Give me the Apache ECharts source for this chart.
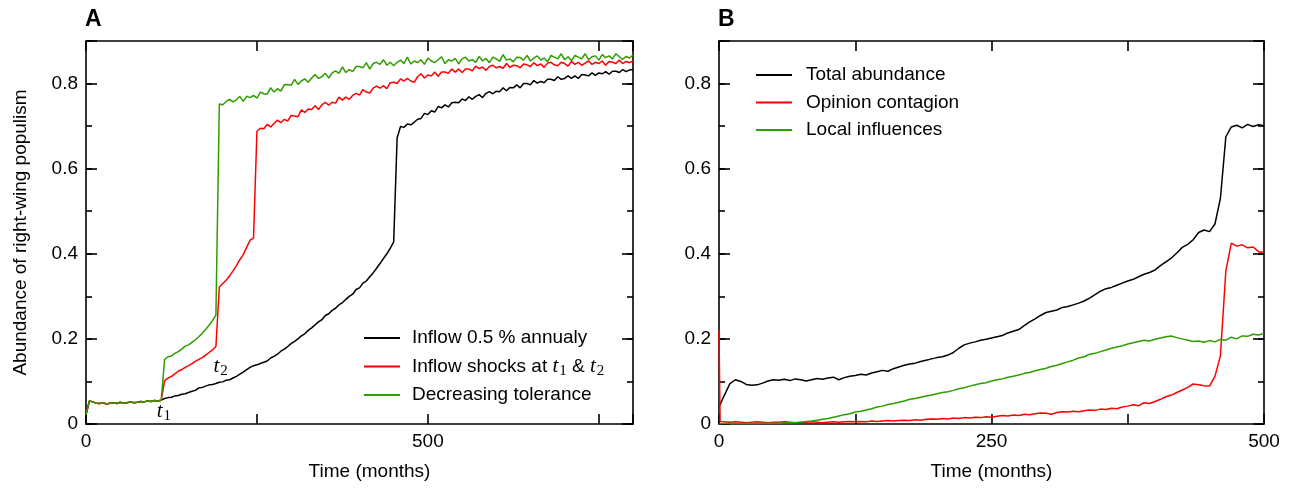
<!DOCTYPE html>
<html>
<head>
<meta charset="utf-8">
<script src="https://cdn.jsdelivr.net/npm/echarts@6/dist/echarts.min.js"></script>
<style>
html,body{margin:0;padding:0;background:#fff;}
#c{width:1291px;height:489px;}
</style>
</head>
<body>
<div id="c"></div>
<script>
// ---------------- DATA ----------------
// Panel A (time in months, step 5)
const preShockA = [0.022,0.054,0.052,0.049,0.048,0.050,0.047,0.049,0.050,0.048,
  0.051,0.049,0.050,0.052,0.050,0.051,0.053,0.052,0.054,0.053,
  0.055,0.054,0.056]; // t = 0..110
const blackA1 = [0.060,0.062,0.063,0.066,0.067,0.070,0.071,0.074,0.077,0.079,
  0.085,0.086,0.089,0.092,0.093,0.095,0.098,0.099,0.103,0.104,
  0.108,0.112,0.117,0.122,0.128,0.133,0.137,0.139,0.142,0.145,
  0.148,0.155,0.159,0.164,0.171,0.176,0.182,0.189,0.194,0.200,
  0.207,0.212,0.220,0.226,0.233,0.240,0.245,0.255,0.259,0.267,
  0.272,0.280,0.285,0.293,0.300,0.305,0.316,0.320,0.331,0.336,
  0.346,0.355,0.366,0.377,0.389,0.400,0.413,0.428]; // t = 115..450
const blackA2 = [0.672,0.699,0.697,0.705,0.703,0.709,0.716,0.718,0.730,0.727,
  0.736,0.733,0.746,0.743,0.750,0.745,0.755,0.756,0.755,0.764,
  0.760,0.769,0.763,0.770,0.774,0.767,0.777,0.781,0.776,0.782,
  0.781,0.790,0.783,0.791,0.790,0.797,0.790,0.800,0.800,0.797,
  0.807,0.801,0.805,0.802,0.810,0.810,0.807,0.816,0.810,0.812,
  0.818,0.812,0.818,0.812,0.821,0.820,0.818,0.825,0.819,0.825,
  0.823,0.828,0.822,0.829,0.829,0.826,0.833,0.828,0.832,0.833]; // t = 455..800
const redA1 = [0.102,0.108,0.112,0.118,0.124,0.128,0.133,0.137,0.142,0.147,
  0.152,0.156,0.162,0.168,0.174,0.182]; // t = 115..190
const redA2 = [0.322,0.330,0.338,0.348,0.360,0.372,0.386,0.398,0.415,0.432,0.437]; // t = 195..245
const redA3 = [0.688,0.695,0.694,0.704,0.698,0.706,0.714,0.708,0.716,0.712,
  0.725,0.724,0.722,0.738,0.732,0.740,0.739,0.748,0.739,0.750,
  0.756,0.749,0.756,0.754,0.768,0.761,0.768,0.763,0.772,0.777,
  0.773,0.786,0.780,0.778,0.789,0.794,0.789,0.795,0.788,0.802,
  0.803,0.800,0.811,0.806,0.812,0.806,0.803,0.816,0.823,0.813,
  0.820,0.818,0.827,0.817,0.827,0.827,0.824,0.834,0.827,0.834,
  0.826,0.834,0.834,0.830,0.841,0.835,0.839,0.831,0.840,0.843,
  0.837,0.840,0.836,0.847,0.838,0.843,0.842,0.837,0.846,0.844,
  0.840,0.849,0.842,0.846,0.838,0.848,0.850,0.844,0.842,0.850,
  0.847,0.841,0.852,0.845,0.850,0.843,0.848,0.853,0.845,0.850,
  0.847,0.853,0.843,0.852,0.850,0.847,0.855,0.847,0.852,0.849,
  0.853]; // t = 250..800
const greenA1 = [0.152,0.158,0.160,0.166,0.170,0.176,0.183,0.186,0.192,0.198,
  0.205,0.213,0.222,0.232,0.243,0.256]; // t = 115..190
const greenA2 = [0.752,0.750,0.758,0.763,0.757,0.762,0.770,0.758,0.770,0.767,
  0.772,0.766,0.780,0.776,0.775,0.790,0.780,0.788,0.782,0.797,
  0.798,0.796,0.810,0.798,0.806,0.811,0.803,0.813,0.821,0.812,
  0.816,0.824,0.813,0.825,0.830,0.824,0.839,0.826,0.833,0.828,
  0.840,0.840,0.837,0.849,0.834,0.847,0.850,0.845,0.856,0.843,
  0.850,0.842,0.850,0.855,0.847,0.862,0.846,0.853,0.849,0.856,
  0.845,0.860,0.853,0.849,0.856,0.863,0.847,0.856,0.853,0.859,
  0.846,0.858,0.862,0.853,0.856,0.850,0.864,0.853,0.859,0.849,
  0.862,0.858,0.852,0.868,0.855,0.858,0.851,0.862,0.861,0.855,
  0.866,0.853,0.860,0.865,0.855,0.860,0.851,0.866,0.862,0.858,
  0.870,0.856,0.863,0.854,0.866,0.862,0.858,0.870,0.856,0.863,
  0.865,0.855,0.868,0.861,0.865,0.858,0.870,0.863,0.857,0.864,
  0.860,0.867]; // t = 195..800

// Panel B (time in months, step 5)
const blackB = [0.040,0.068,0.095,0.104,0.100,0.093,0.091,0.092,0.096,0.101,
  0.104,0.103,0.105,0.102,0.106,0.104,0.101,0.104,0.107,0.105,
  0.108,0.110,0.104,0.109,0.112,0.114,0.117,0.115,0.120,0.123,
  0.126,0.124,0.130,0.134,0.138,0.141,0.143,0.147,0.150,0.153,
  0.156,0.158,0.162,0.168,0.178,0.186,0.190,0.193,0.197,0.199,
  0.202,0.205,0.208,0.214,0.218,0.222,0.231,0.240,0.247,0.255,
  0.262,0.265,0.268,0.274,0.276,0.280,0.284,0.289,0.296,0.304,
  0.312,0.318,0.321,0.326,0.331,0.336,0.340,0.346,0.352,0.356,
  0.362,0.372,0.381,0.390,0.402,0.415,0.422,0.433,0.450,0.456,
  0.452,0.470,0.530,0.675,0.698,0.702,0.696,0.704,0.699,0.703,
  0.701]; // t = 0..500
const redB0 = [0.220,0.006]; // t = 0..1 (step 1)
const redB1 = [0.005,0.004,0.005,0.004,0.003,0.004,0.005,0.004,0.003,0.004,
  0.004,0.005,0.004,0.003,0.004,0.004,0.005,0.004,0.003,0.004,
  0.005,0.004,0.005,0.006,0.005,0.006,0.005,0.007,0.006,0.007,
  0.008,0.007,0.008,0.009,0.008,0.010,0.009,0.011,0.012,0.011,
  0.013,0.012,0.014,0.013,0.015,0.014,0.016,0.015,0.017,0.016,
  0.018,0.020,0.019,0.021,0.020,0.023,0.022,0.024,0.026,0.025,
  0.023,0.027,0.029,0.028,0.030,0.029,0.031,0.033,0.032,0.035,
  0.034,0.037,0.036,0.040,0.042,0.045,0.043,0.050,0.048,0.053,
  0.058,0.064,0.068,0.074,0.080,0.086,0.094,0.092,0.090,0.089,
  0.112,0.160,0.360,0.425,0.418,0.421,0.414,0.416,0.405,0.403]; // t = 5..500
const greenB = [0.000,0.001,0.001,0.001,0.001,0.001,0.002,0.001,0.002,0.002,
  0.002,0.002,0.003,0.003,0.003,0.004,0.006,0.007,0.009,0.011,
  0.013,0.016,0.019,0.022,0.024,0.028,0.030,0.033,0.036,0.040,
  0.042,0.046,0.048,0.051,0.054,0.058,0.060,0.063,0.066,0.068,
  0.071,0.074,0.076,0.079,0.083,0.085,0.089,0.092,0.095,0.097,
  0.101,0.104,0.106,0.110,0.112,0.115,0.119,0.121,0.125,0.128,
  0.131,0.135,0.138,0.142,0.146,0.150,0.155,0.158,0.164,0.166,
  0.170,0.174,0.178,0.181,0.184,0.188,0.191,0.194,0.197,0.195,
  0.199,0.202,0.205,0.207,0.203,0.200,0.197,0.194,0.195,0.192,
  0.196,0.193,0.199,0.197,0.204,0.200,0.207,0.206,0.211,0.209,
  0.213]; // t = 0..500

const namesA = ['Inflow 0.5 % annualy', 'Inflow shocks at t1 & t2', 'Decreasing tolerance'];
const namesB = ['Total abundance', 'Opinion contagion', 'Local influences'];
const xTicksA = [0, 500];        // labelled ticks, panel A
const xTicksB = [0, 250, 500];   // labelled ticks, panel B
const T1 = 114, T2 = 195;        // shock times (for annotation)

// ---------------- HELPERS ----------------
function seg(start, step, vals) { return vals.map((v, i) => [start + i * step, v]); }

const SANS = "'Liberation Sans', Arial, Helvetica, sans-serif";
const SERIF = "'Liberation Serif', 'Times New Roman', serif";
const BLACK = '#000000', RED = '#ff0000', GREEN = '#2f9c00';
const FS = 19;
const TICKSTYLE = { color: '#000', width: 1.6 };

function xAxes(gi, max, interval, labels, shiftName) {
  const common = {
    type: 'value', gridIndex: gi, min: 0, max: max, interval: interval,
    axisLine: { show: true, onZero: false, lineStyle: { color: '#000', width: 1.6 } },
    axisTick: { show: true, inside: true, length: 10, lineStyle: TICKSTYLE },
    splitLine: { show: false }
  };
  return [
    Object.assign({}, common, {
      position: 'bottom',
      axisLabel: { show: true, margin: 8, color: '#000', fontSize: FS, fontFamily: SANS,
        formatter: v => labels.indexOf(v) >= 0 ? String(v) : '' },
      name: 'Time (months)', nameLocation: 'middle', nameGap: 38,
      nameTextStyle: { color: '#000', fontSize: FS, fontFamily: SANS, padding: [0, 0, 0, shiftName] }
    }),
    Object.assign({}, common, { position: 'top', axisLabel: { show: false } })
  ];
}
function hiddenX(gi, max) {
  return { type: 'value', gridIndex: gi, min: 0, max: max, show: false };
}
function yMajor(gi, withName) {
  const line = { show: true, onZero: false, lineStyle: { color: '#000', width: 1.6 } };
  const base = { type: 'value', gridIndex: gi, min: 0, max: 0.9, interval: 0.2, splitLine: { show: false } };
  const fmt = v => { const k = Math.round(v * 10); if (k % 2) return ''; return k === 0 ? '0' : (k / 10).toFixed(1); };
  const left = Object.assign({}, base, {
    position: 'left', axisLine: line,
    axisTick: { show: true, inside: true, length: 11, lineStyle: TICKSTYLE },
    axisLabel: { show: true, margin: 8, color: '#000', fontSize: FS, fontFamily: SANS, formatter: fmt }
  });
  if (withName) Object.assign(left, {
    name: 'Abundance of right-wing populism', nameLocation: 'middle', nameGap: 56, nameRotate: 90,
    nameTextStyle: { color: '#000', fontSize: FS, fontFamily: SANS }
  });
  const right = Object.assign({}, base, {
    position: 'right', axisLine: line,
    axisTick: { show: true, inside: true, length: 11, lineStyle: TICKSTYLE },
    axisLabel: { show: false }
  });
  return [left, right];
}
function yMinor(gi) {
  const base = { type: 'value', gridIndex: gi, min: 0, max: 0.9, interval: 0.1, splitLine: { show: false },
    axisLine: { show: false }, axisLabel: { show: false },
    axisTick: { show: true, inside: true, length: 6, lineStyle: TICKSTYLE } };
  return [Object.assign({}, base, { position: 'left' }), Object.assign({}, base, { position: 'right' })];
}
function line(name, color, data, xi, yi) {
  return {
    type: 'line', name: name, data: data, xAxisIndex: xi, yAxisIndex: yi,
    showSymbol: false, symbol: 'none', smooth: false, animation: false,
    lineStyle: { color: color, width: 1.5 }, itemStyle: { color: color }, z: 3
  };
}

const richT = {
  it: { fontFamily: SERIF, fontStyle: 'italic', fontSize: 21, color: '#000', lineHeight: 22 },
  sub: { fontFamily: SERIF, fontSize: 15, color: '#000', padding: [10, 0, 0, 1], lineHeight: 22 }
};

// ---------------- CHART ----------------
const chart = echarts.init(document.getElementById('c'), null, { renderer: 'canvas', width: 1291, height: 489 });

const gA = { left: 86, top: 41, width: 547, height: 383, outerBoundsMode: 'none', containLabel: false };
const gB = { left: 719, top: 41, width: 545, height: 383, outerBoundsMode: 'none', containLabel: false };

const option = {
  animation: false,
  backgroundColor: '#fff',
  grid: [gA, gB, Object.assign({}, gA), Object.assign({}, gB)],
  xAxis: [].concat(
    xAxes(0, 800, 250, xTicksA, 20),   // 0,1
    xAxes(1, 500, 125, xTicksB, 0),    // 2,3
    [hiddenX(2, 800), hiddenX(3, 500)] // 4,5
  ),
  yAxis: [].concat(
    yMajor(0, true),   // 0,1
    yMajor(1, false),  // 2,3
    yMinor(2),         // 4,5
    yMinor(3)          // 6,7
  ),
  legend: [
    {
      data: namesA, orient: 'vertical', left: 364, top: 327, padding: 0, itemGap: 5,
      icon: 'rect', itemWidth: 36, itemHeight: 2, selectedMode: false,
      formatter: n => n === namesA[1] ? 'Inflow shocks at {it|t}{sub|1} & {it|t}{sub|2}' : n,
      textStyle: { color: '#000', fontSize: FS, fontFamily: SANS, lineHeight: 22, padding: [0, 0, 0, 7], rich: richT }
    },
    {
      data: namesB, orient: 'vertical', left: 756, top: 64, padding: 0, itemGap: 5.5,
      icon: 'rect', itemWidth: 36, itemHeight: 2, selectedMode: false,
      textStyle: { color: '#000', fontSize: FS, fontFamily: SANS, lineHeight: 22, padding: [0, 0, 0, 9] }
    }
  ],
  series: [
    line(namesA[0], BLACK, seg(0, 5, preShockA).concat(seg(115, 5, blackA1), seg(455, 5, blackA2)), 0, 0),
    line(namesA[1], RED, seg(0, 5, preShockA).concat(seg(115, 5, redA1), seg(195, 5, redA2), seg(250, 5, redA3)), 0, 0),
    line(namesA[2], GREEN, seg(0, 5, preShockA).concat(seg(115, 5, greenA1), seg(195, 5, greenA2)), 0, 0),
    line(namesB[0], BLACK, seg(0, 5, blackB), 2, 2),
    line(namesB[1], RED, seg(0, 1, redB0).concat(seg(5, 5, redB1)), 2, 2),
    line(namesB[2], GREEN, seg(0, 5, greenB), 2, 2)
  ]
};
chart.setOption(option);

// Panel letters and t1 / t2 annotations (annotations anchored to data coordinates)
const p1 = chart.convertToPixel({ xAxisIndex: 0, yAxisIndex: 0 }, [T1, 0.03]);
const p2 = chart.convertToPixel({ xAxisIndex: 0, yAxisIndex: 0 }, [T2 + 2, 0.136]);
chart.setOption({
  graphic: [
    { type: 'text', left: 85, top: 8, style: { text: 'A', fontSize: 23, fontWeight: 'bold', fontFamily: SANS, fill: '#000' } },
    { type: 'text', left: 718, top: 8, style: { text: 'B', fontSize: 23, fontWeight: 'bold', fontFamily: SANS, fill: '#000' } },
    { type: 'text', x: p1[0], y: p1[1], z: 10,
      style: { text: '{it|t}{sub|1}', rich: richT, align: 'center', verticalAlign: 'middle' } },
    { type: 'text', x: p2[0], y: p2[1], z: 10,
      style: { text: '{it|t}{sub|2}', rich: richT, align: 'center', verticalAlign: 'middle' } }
  ]
});
</script>
</body>
</html>
